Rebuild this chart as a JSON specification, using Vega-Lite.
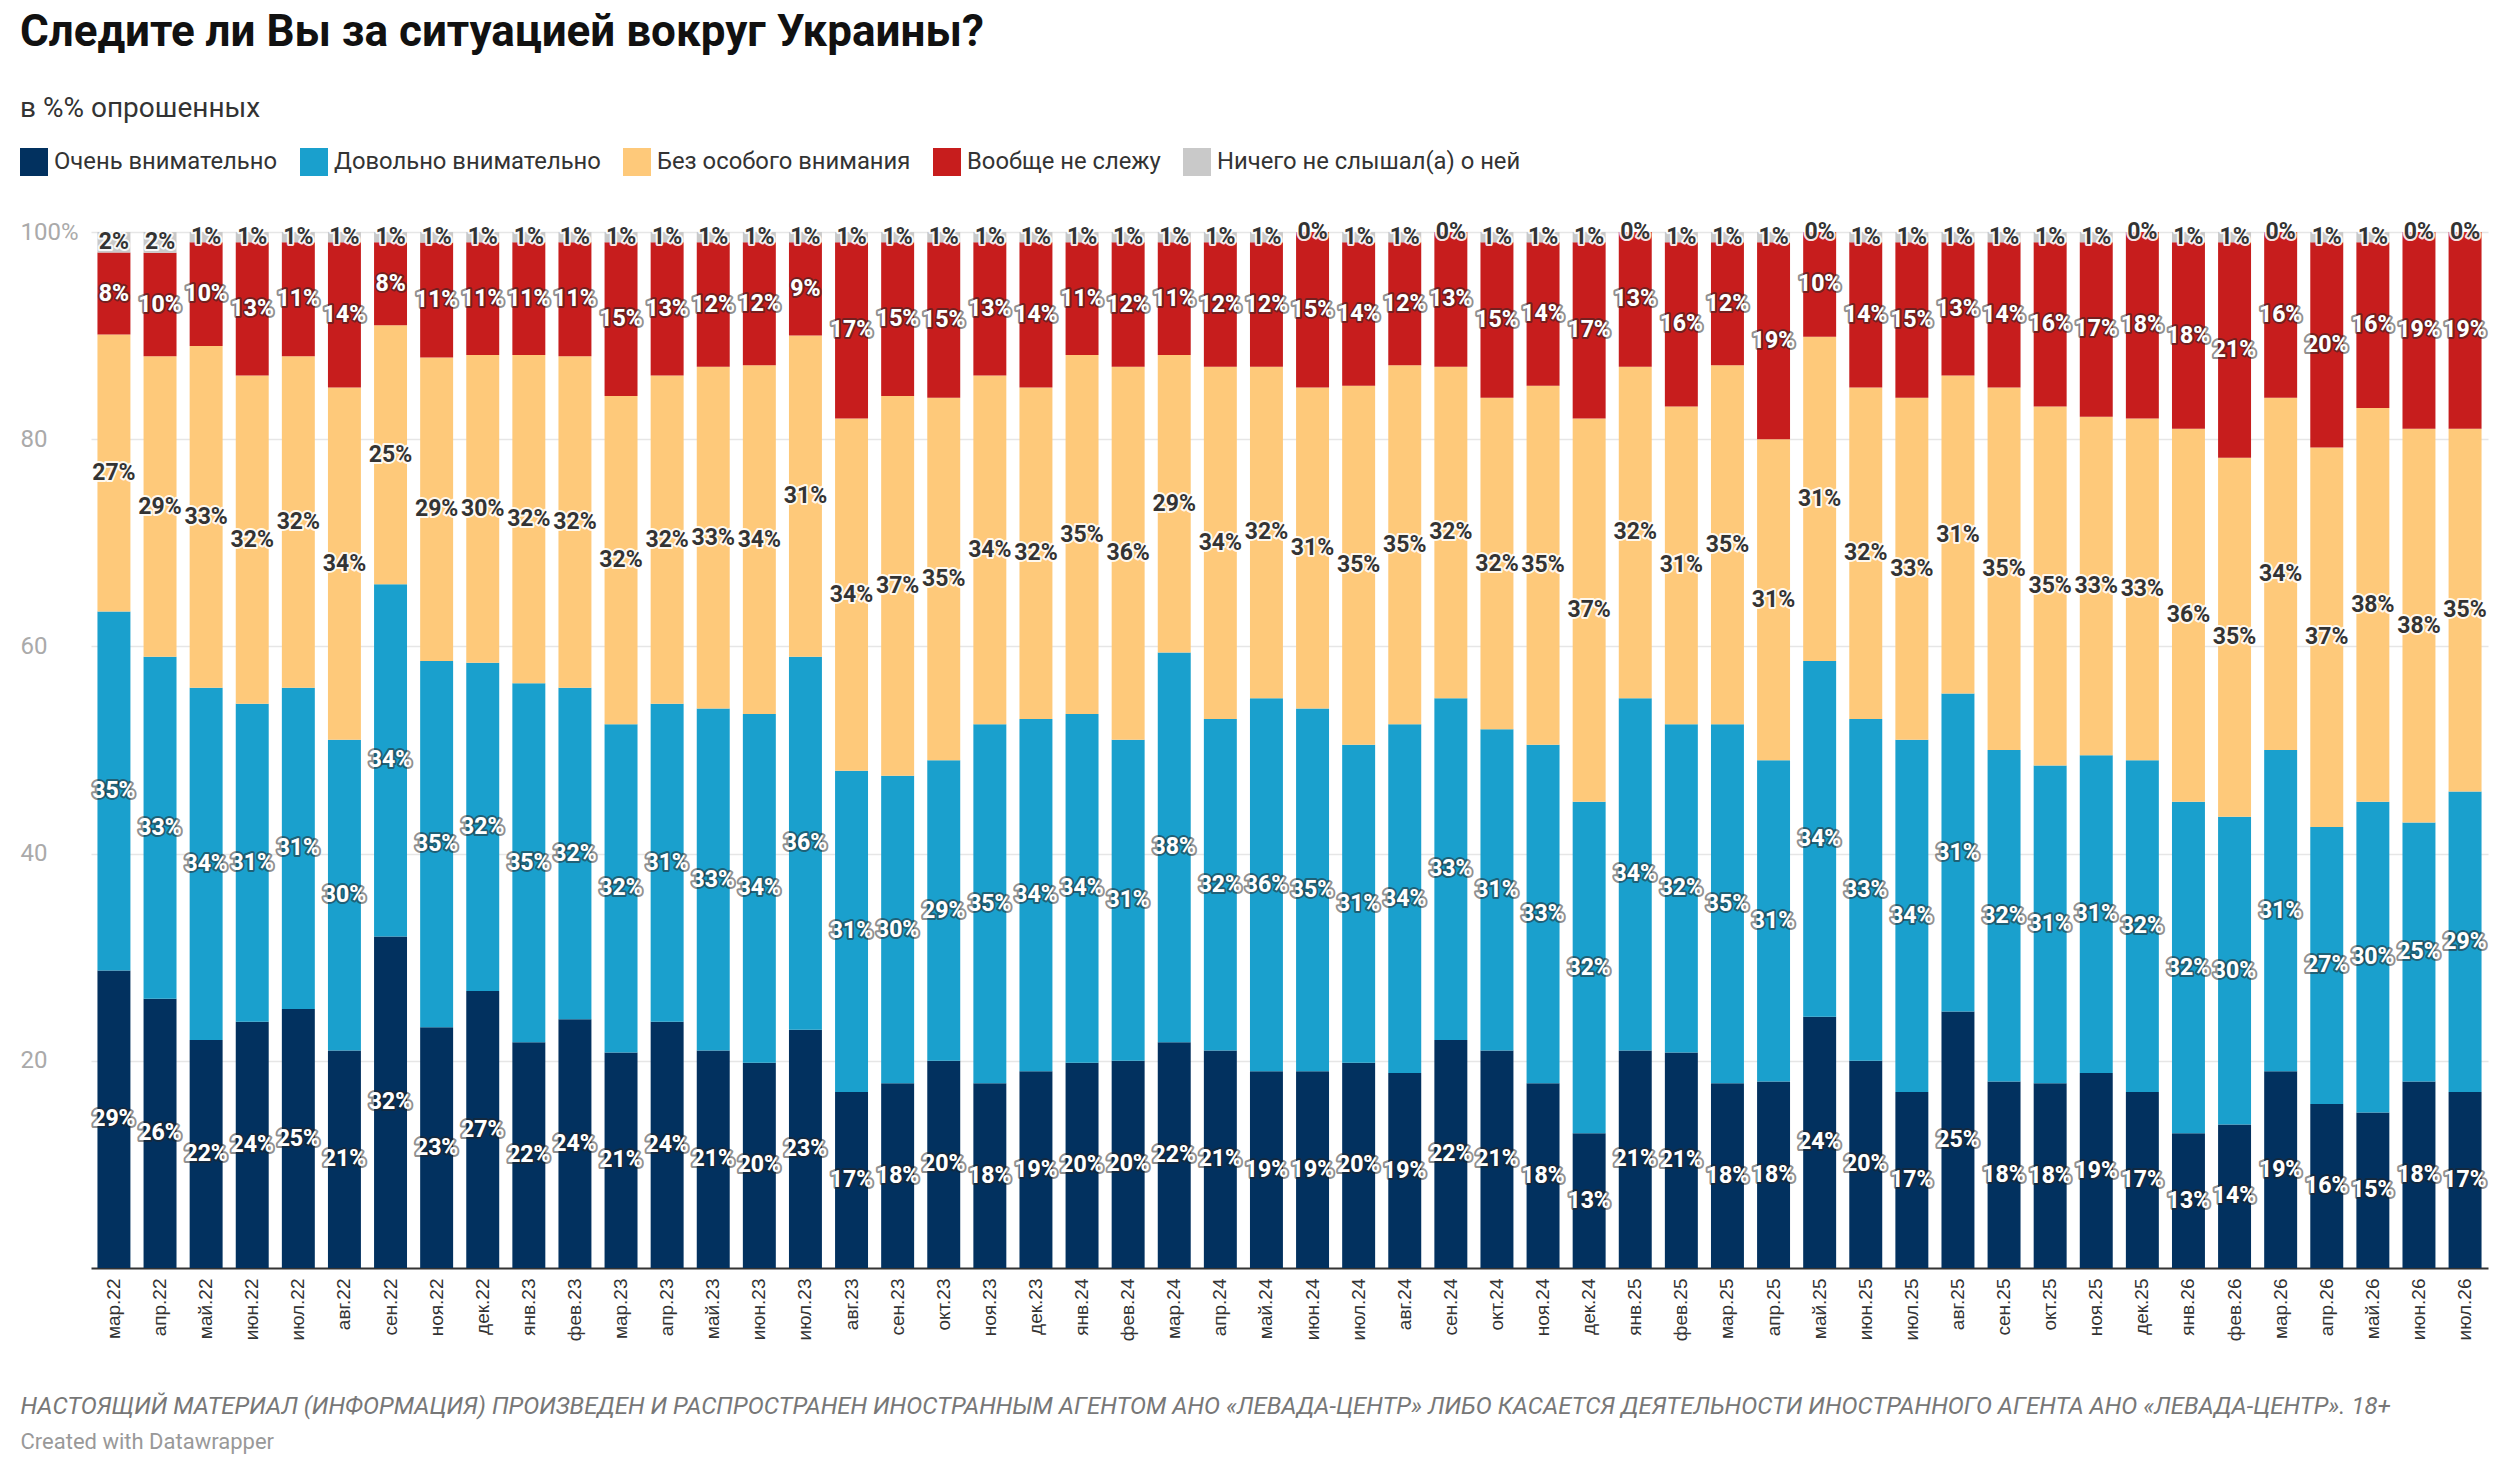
{
  "$schema": "https://vega.github.io/schema/vega-lite/v6.json",
  "autosize": "none",
  "width": 2397,
  "height": 1036,
  "padding": {"left": 91, "top": 232, "right": 12, "bottom": 206},
  "background": "white",
  "title": {
    "text": "Следите ли Вы за ситуацией вокруг Украины?",
    "subtitle": "в %% опрошенных",
    "anchor": "start",
    "frame": "group",
    "dx": -71,
    "offset": 25,
    "font": "Roboto",
    "fontSize": 44,
    "fontWeight": "bold",
    "color": "#111",
    "subtitleFont": "Roboto",
    "subtitleFontSize": 28,
    "subtitleColor": "#333",
    "subtitlePadding": 40
  },
  "datasets": {
    "cats": [
      {"key": "a", "name": "Очень внимательно"},
      {"key": "b", "name": "Довольно внимательно"},
      {"key": "c", "name": "Без особого внимания"},
      {"key": "d", "name": "Вообще не слежу"},
      {"key": "e", "name": "Ничего не слышал(а) о ней"}
    ]
  },
  "data": {
    "values": [
      {"m": "мар.22", "a": 29, "b": 35, "c": 27, "d": 8, "e": 2},
      {"m": "апр.22", "a": 26, "b": 33, "c": 29, "d": 10, "e": 2},
      {"m": "май.22", "a": 22, "b": 34, "c": 33, "d": 10, "e": 1},
      {"m": "июн.22", "a": 24, "b": 31, "c": 32, "d": 13, "e": 1},
      {"m": "июл.22", "a": 25, "b": 31, "c": 32, "d": 11, "e": 1},
      {"m": "авг.22", "a": 21, "b": 30, "c": 34, "d": 14, "e": 1},
      {"m": "сен.22", "a": 32, "b": 34, "c": 25, "d": 8, "e": 1},
      {"m": "ноя.22", "a": 23, "b": 35, "c": 29, "d": 11, "e": 1},
      {"m": "дек.22", "a": 27, "b": 32, "c": 30, "d": 11, "e": 1},
      {"m": "янв.23", "a": 22, "b": 35, "c": 32, "d": 11, "e": 1},
      {"m": "фев.23", "a": 24, "b": 32, "c": 32, "d": 11, "e": 1},
      {"m": "мар.23", "a": 21, "b": 32, "c": 32, "d": 15, "e": 1},
      {"m": "апр.23", "a": 24, "b": 31, "c": 32, "d": 13, "e": 1},
      {"m": "май.23", "a": 21, "b": 33, "c": 33, "d": 12, "e": 1},
      {"m": "июн.23", "a": 20, "b": 34, "c": 34, "d": 12, "e": 1},
      {"m": "июл.23", "a": 23, "b": 36, "c": 31, "d": 9, "e": 1},
      {"m": "авг.23", "a": 17, "b": 31, "c": 34, "d": 17, "e": 1},
      {"m": "сен.23", "a": 18, "b": 30, "c": 37, "d": 15, "e": 1},
      {"m": "окт.23", "a": 20, "b": 29, "c": 35, "d": 15, "e": 1},
      {"m": "ноя.23", "a": 18, "b": 35, "c": 34, "d": 13, "e": 1},
      {"m": "дек.23", "a": 19, "b": 34, "c": 32, "d": 14, "e": 1},
      {"m": "янв.24", "a": 20, "b": 34, "c": 35, "d": 11, "e": 1},
      {"m": "фев.24", "a": 20, "b": 31, "c": 36, "d": 12, "e": 1},
      {"m": "мар.24", "a": 22, "b": 38, "c": 29, "d": 11, "e": 1},
      {"m": "апр.24", "a": 21, "b": 32, "c": 34, "d": 12, "e": 1},
      {"m": "май.24", "a": 19, "b": 36, "c": 32, "d": 12, "e": 1},
      {"m": "июн.24", "a": 19, "b": 35, "c": 31, "d": 15, "e": 0},
      {"m": "июл.24", "a": 20, "b": 31, "c": 35, "d": 14, "e": 1},
      {"m": "авг.24", "a": 19, "b": 34, "c": 35, "d": 12, "e": 1},
      {"m": "сен.24", "a": 22, "b": 33, "c": 32, "d": 13, "e": 0},
      {"m": "окт.24", "a": 21, "b": 31, "c": 32, "d": 15, "e": 1},
      {"m": "ноя.24", "a": 18, "b": 33, "c": 35, "d": 14, "e": 1},
      {"m": "дек.24", "a": 13, "b": 32, "c": 37, "d": 17, "e": 1},
      {"m": "янв.25", "a": 21, "b": 34, "c": 32, "d": 13, "e": 0},
      {"m": "фев.25", "a": 21, "b": 32, "c": 31, "d": 16, "e": 1},
      {"m": "мар.25", "a": 18, "b": 35, "c": 35, "d": 12, "e": 1},
      {"m": "апр.25", "a": 18, "b": 31, "c": 31, "d": 19, "e": 1},
      {"m": "май.25", "a": 24, "b": 34, "c": 31, "d": 10, "e": 0},
      {"m": "июн.25", "a": 20, "b": 33, "c": 32, "d": 14, "e": 1},
      {"m": "июл.25", "a": 17, "b": 34, "c": 33, "d": 15, "e": 1},
      {"m": "авг.25", "a": 25, "b": 31, "c": 31, "d": 13, "e": 1},
      {"m": "сен.25", "a": 18, "b": 32, "c": 35, "d": 14, "e": 1},
      {"m": "окт.25", "a": 18, "b": 31, "c": 35, "d": 16, "e": 1},
      {"m": "ноя.25", "a": 19, "b": 31, "c": 33, "d": 17, "e": 1},
      {"m": "дек.25", "a": 17, "b": 32, "c": 33, "d": 18, "e": 0},
      {"m": "янв.26", "a": 13, "b": 32, "c": 36, "d": 18, "e": 1},
      {"m": "фев.26", "a": 14, "b": 30, "c": 35, "d": 21, "e": 1},
      {"m": "мар.26", "a": 19, "b": 31, "c": 34, "d": 16, "e": 0},
      {"m": "апр.26", "a": 16, "b": 27, "c": 37, "d": 20, "e": 1},
      {"m": "май.26", "a": 15, "b": 30, "c": 38, "d": 16, "e": 1},
      {"m": "июн.26", "a": 18, "b": 25, "c": 38, "d": 19, "e": 0},
      {"m": "июл.26", "a": 17, "b": 29, "c": 35, "d": 19, "e": 0}
    ]
  },
  "transform": [
    {"fold": ["a", "b", "c", "d", "e"]},
    {"lookup": "key", "from": {"data": {"name": "cats"}, "key": "key", "fields": ["name"]}}
  ],
  "encoding": {
    "x": {
      "field": "m",
      "type": "ordinal",
      "sort": null,
      "scale": {"paddingInner": 0.285, "paddingOuter": 0.14},
      "axis": {
        "title": "НАСТОЯЩИЙ МАТЕРИАЛ (ИНФОРМАЦИЯ) ПРОИЗВЕДЕН И РАСПРОСТРАНЕН ИНОСТРАННЫМ АГЕНТОМ АНО «ЛЕВАДА-ЦЕНТР» ЛИБО КАСАЕТСЯ ДЕЯТЕЛЬНОСТИ ИНОСТРАННОГО АГЕНТА АНО «ЛЕВАДА-ЦЕНТР». 18+",
        "titleX": -71,
        "titleY": 145,
        "titleAlign": "left",
        "titleAnchor": "start",
        "titleBaseline": "alphabetic",
        "titleFont": "Roboto",
        "titleFontStyle": "italic",
        "titleFontWeight": "normal",
        "titleFontSize": 24,
        "titleColor": "#777",
        "labelAngle": -90,
        "labelFont": "Liberation Sans",
        "labelFontSize": 19,
        "labelColor": "#333",
        "labelPadding": 10,
        "ticks": false,
        "tickSize": 0,
        "domainColor": "#333",
        "domainWidth": 2,
        "grid": false
      }
    },
    "y": {
      "field": "value",
      "type": "quantitative",
      "stack": "normalize",
      "scale": {"domain": [0, 1]},
      "axis": {
        "title": "Created with Datawrapper",
        "titleX": -71,
        "titleY": 1216,
        "titleAngle": 0,
        "titleAlign": "left",
        "titleBaseline": "alphabetic",
        "titleFont": "Roboto",
        "titleFontSize": 22,
        "titleFontWeight": "normal",
        "titleColor": "#999",
        "values": [0.2, 0.4, 0.6, 0.8, 1],
        "labelExpr": "datum.value >= 0.999 ? '100%' : format(datum.value * 100, '.0f')",
        "labelAlign": "left",
        "labelBaseline": "middle",
        "labelPadding": 71,
        "labelFont": "Roboto",
        "labelFontSize": 24,
        "labelColor": "#aaa",
        "ticks": false,
        "tickSize": 0,
        "domain": false,
        "grid": true,
        "gridColor": "#e6e6e6",
        "gridWidth": 1.5
      }
    },
    "order": {"field": "key"}
  },
  "layer": [
    {
      "mark": {"type": "bar"},
      "encoding": {
        "color": {
          "field": "name",
          "type": "nominal",
          "scale": {
            "domain": ["Очень внимательно", "Довольно внимательно", "Без особого внимания", "Вообще не слежу", "Ничего не слышал(а) о ней"],
            "range": ["#02315f", "#1aa0cd", "#fec97a", "#c71d1d", "#c9c9c9"]
          },
          "legend": {
            "orient": "none",
            "legendX": -71,
            "legendY": -84,
            "direction": "horizontal",
            "title": null,
            "padding": 0,
            "symbolType": "square",
            "symbolSize": 784,
            "symbolStrokeWidth": 0,
            "symbolOffset": 0,
            "labelFont": "Roboto",
            "labelFontSize": 23.8,
            "labelColor": "#333",
            "labelOffset": 6,
            "labelLimit": 0,
            "columnPadding": 22
          }
        }
      }
    },
    {
      "mark": {"type": "text", "font": "Roboto", "fontSize": 23, "fontWeight": "bold", "strokeWidth": 4, "strokeJoin": "round", "text": {"expr": "datum.value + '%'"}},
      "encoding": {
        "y": {"field": "value", "type": "quantitative", "stack": "normalize", "bandPosition": 0.5},
        "detail": {"field": "name"},
        "fill": {"value": "#ffffff"},
        "stroke": {"condition": {"test": "datum.key == 'c' || datum.key == 'e'", "value": "#ffffff"}, "value": "#222222"},
        "strokeOpacity": {"condition": {"test": "datum.key == 'c' || datum.key == 'e'", "value": 0.9}, "value": 0.5}
      }
    },
    {
      "mark": {"type": "text", "font": "Roboto", "fontSize": 23, "fontWeight": "bold", "text": {"expr": "datum.value + '%'"}},
      "encoding": {
        "y": {"field": "value", "type": "quantitative", "stack": "normalize", "bandPosition": 0.5},
        "detail": {"field": "name"},
        "fill": {"condition": {"test": "datum.key == 'c' || datum.key == 'e'", "value": "#333333"}, "value": "#ffffff"}
      }
    }
  ],
  "config": {"view": {"stroke": null}}
}
